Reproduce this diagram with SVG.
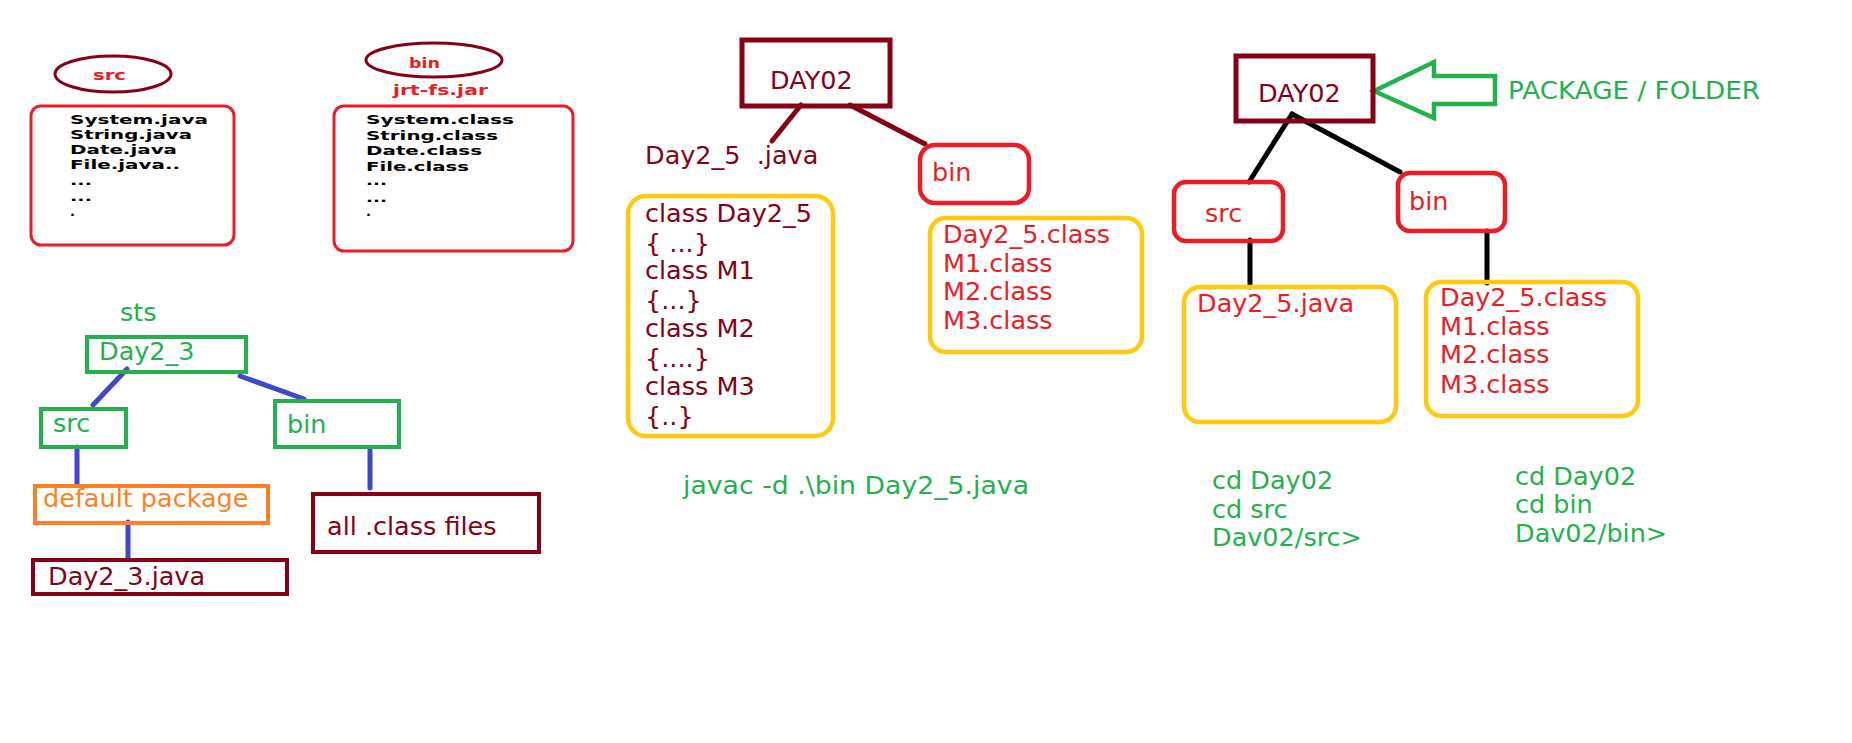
<svg xmlns="http://www.w3.org/2000/svg" width="1852" height="743" viewBox="0 0 1852 743">
<style>
.t{font-family:"DejaVu Sans","Verdana",sans-serif;font-size:25.5px}
.s{font-family:"DejaVu Sans",sans-serif;font-size:13px;font-weight:bold;fill:#000}
.st{font-family:"DejaVu Sans",sans-serif;font-size:14px;font-weight:bold;fill:#ED1C24}
.dr{fill:#880015}.rd{fill:#ED1C24}.gr{fill:#22B14C}.or{fill:#FF7F27}
.bxr{fill:none;stroke:#ED1C24}
.bxd{fill:none;stroke:#880015}
.bxg{fill:none;stroke:#22B14C;stroke-width:4}
.bxy{fill:none;stroke:#FFC90E;stroke-width:4.5}
.lb{stroke:#3F48CC;stroke-width:5;stroke-linecap:round}
.ld{stroke:#880015;stroke-width:5;stroke-linecap:round}
.lk{stroke:#000;stroke-width:5;stroke-linecap:round}
</style>
<rect width="1852" height="743" fill="#fff"/>

<g id="connectors">
<line class="lb" x1="127" y1="369" x2="93" y2="405"/>
<line class="lb" x1="240" y1="376" x2="304" y2="399"/>
<line class="lb" x1="77" y1="447" x2="77" y2="484"/>
<line class="lb" x1="370" y1="450" x2="370" y2="488"/>
<line class="lb" x1="128" y1="522" x2="128" y2="559"/>
<line class="ld" x1="801" y1="105" x2="772" y2="141"/>
<line class="ld" x1="850" y1="105" x2="925" y2="144"/>
<line class="lk" x1="1292" y1="114" x2="1249" y2="182"/>
<line class="lk" x1="1292" y1="114" x2="1400" y2="172"/>
<line class="lk" x1="1250" y1="240" x2="1250" y2="287"/>
<line class="lk" x1="1487" y1="231" x2="1487" y2="283"/>
<polygon points="1374,91 1434,62 1434,76 1495,76 1495,104 1434,104 1434,118" fill="none" stroke="#22B14C" stroke-width="4.5" stroke-linejoin="miter"/>
</g>

<g id="src-ellipse">
<ellipse cx="113" cy="74" rx="58" ry="18" class="bxd" stroke-width="3"/>
<text class="st" x="93" y="80" textLength="33" lengthAdjust="spacingAndGlyphs">src</text>
</g>
<g id="src-list">
<rect x="31" y="106" width="203" height="139" rx="10" class="bxr" stroke-width="3"/>
<text class="s" x="70" y="124" textLength="138" lengthAdjust="spacingAndGlyphs">System.java</text>
<text class="s" x="70" y="139" textLength="122" lengthAdjust="spacingAndGlyphs">String.java</text>
<text class="s" x="70" y="154" textLength="107" lengthAdjust="spacingAndGlyphs">Date.java</text>
<text class="s" x="70" y="169" textLength="110" lengthAdjust="spacingAndGlyphs">File.java..</text>
<text class="s" x="70" y="185" textLength="22" lengthAdjust="spacingAndGlyphs">...</text>
<text class="s" x="70" y="201" textLength="22" lengthAdjust="spacingAndGlyphs" font-weight="normal">...</text>
<text class="s" x="70" y="216">.</text>
</g>
<g id="bin-ellipse">
<ellipse cx="434" cy="60" rx="68" ry="17" class="bxd" stroke-width="3"/>
<text class="st" x="409" y="68" textLength="31" lengthAdjust="spacingAndGlyphs">bin</text>
<text class="st" x="393" y="95" textLength="95" lengthAdjust="spacingAndGlyphs">jrt-fs.jar</text>
</g>
<g id="bin-list">
<rect x="334" y="106" width="239" height="145" rx="10" class="bxr" stroke-width="3"/>
<text class="s" x="366" y="124" textLength="148" lengthAdjust="spacingAndGlyphs" font-weight="normal">System.class</text>
<text class="s" x="366" y="140" textLength="132" lengthAdjust="spacingAndGlyphs">String.class</text>
<text class="s" x="366" y="155" textLength="116" lengthAdjust="spacingAndGlyphs">Date.class</text>
<text class="s" x="366" y="171" textLength="103" lengthAdjust="spacingAndGlyphs" font-weight="normal">File.class</text>
<text class="s" x="366" y="185" textLength="21" lengthAdjust="spacingAndGlyphs" font-weight="normal">...</text>
<text class="s" x="366" y="202" textLength="21" lengthAdjust="spacingAndGlyphs">...</text>
<text class="s" x="366" y="216">.</text>
</g>

<g id="sts"><text class="t gr" x="120" y="321">sts</text></g>
<g id="day2_3">
<rect x="87" y="337" width="159" height="35" class="bxg"/>
<text class="t gr" x="99" y="360">Day2_3</text>
</g>
<g id="src-green">
<rect x="41" y="409" width="85" height="38" class="bxg"/>
<text class="t gr" x="53" y="432">src</text>
</g>
<g id="bin-green">
<rect x="275" y="401" width="124" height="46" class="bxg"/>
<text class="t gr" x="287" y="433">bin</text>
</g>
<g id="default-package">
<rect x="35" y="486" width="233" height="37" fill="none" stroke="#FF7F27" stroke-width="4"/>
<text class="t or" x="43" y="507">default package</text>
</g>
<g id="day2_3-java">
<rect x="33" y="560" width="254" height="34" class="bxd" stroke-width="4"/>
<text class="t dr" x="48" y="585">Day2_3.java</text>
</g>
<g id="all-class">
<rect x="313" y="494" width="226" height="58" class="bxd" stroke-width="4"/>
<text class="t dr" x="327" y="535">all .class files</text>
</g>

<g id="day02-a">
<rect x="742" y="40" width="148" height="66" class="bxd" stroke-width="5"/>
<text class="t dr" x="770" y="89">DAY02</text>
</g>
<g id="day2_5-java-label"><text class="t dr" x="645" y="164" xml:space="preserve">Day2_5  .java</text></g>
<g id="bin-a">
<rect x="920" y="145" width="109" height="58" rx="15" class="bxr" stroke-width="4.5"/>
<text class="t rd" x="932" y="181">bin</text>
</g>
<g id="source-box">
<rect x="628" y="196" width="205" height="240" rx="18" class="bxy"/>
<text class="t dr" x="645" y="222">class Day2_5</text>
<text class="t dr" x="645" y="252">{ ...}</text>
<text class="t dr" x="645" y="279">class M1</text>
<text class="t dr" x="645" y="309">{...}</text>
<text class="t dr" x="645" y="337">class M2</text>
<text class="t dr" x="645" y="367">{....}</text>
<text class="t dr" x="645" y="395">class M3</text>
<text class="t dr" x="645" y="425">{..}</text>
</g>
<g id="class-box-a">
<rect x="930" y="218" width="212" height="134" rx="16" class="bxy"/>
<text class="t rd" x="943" y="243">Day2_5.class</text>
<text class="t rd" x="943" y="272">M1.class</text>
<text class="t rd" x="943" y="300">M2.class</text>
<text class="t rd" x="943" y="329">M3.class</text>
</g>
<g id="javac"><text class="t gr" x="683" y="494" textLength="346" lengthAdjust="spacingAndGlyphs">javac -d .\bin Day2_5.java</text></g>

<g id="day02-b">
<rect x="1236" y="56" width="137" height="65" class="bxd" stroke-width="5"/>
<text class="t dr" x="1258" y="102">DAY02</text>
</g>
<g id="package-label"><text class="t gr" x="1508" y="99" textLength="252" lengthAdjust="spacingAndGlyphs" style="font-size:25px">PACKAGE / FOLDER</text></g>
<g id="src-b">
<rect x="1174" y="182" width="109" height="59" rx="12" class="bxr" stroke-width="4.5"/>
<text class="t rd" x="1205" y="222">src</text>
</g>
<g id="bin-b">
<rect x="1398" y="173" width="107" height="58" rx="12" class="bxr" stroke-width="4.5"/>
<text class="t rd" x="1409" y="210">bin</text>
</g>
<g id="java-box-b">
<rect x="1184" y="287" width="212" height="135" rx="16" class="bxy"/>
<text class="t rd" x="1197" y="312">Day2_5.java</text>
</g>
<g id="class-box-b">
<rect x="1426" y="282" width="212" height="134" rx="16" class="bxy"/>
<text class="t rd" x="1440" y="306">Day2_5.class</text>
<text class="t rd" x="1440" y="335">M1.class</text>
<text class="t rd" x="1440" y="363">M2.class</text>
<text class="t rd" x="1440" y="393">M3.class</text>
</g>
<g id="cd-src">
<text class="t gr" x="1212" y="489">cd Day02</text>
<text class="t gr" x="1212" y="518">cd src</text>
<text class="t gr" x="1212" y="546">Dav02/src&gt;</text>
</g>
<g id="cd-bin">
<text class="t gr" x="1515" y="485">cd Day02</text>
<text class="t gr" x="1515" y="513">cd bin</text>
<text class="t gr" x="1515" y="542">Dav02/bin&gt;</text>
</g>
</svg>
